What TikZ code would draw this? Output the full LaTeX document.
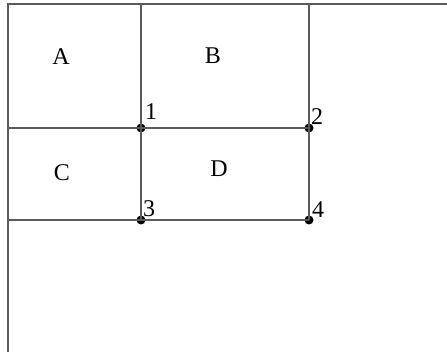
\documentclass[tikz,border=0pt]{standalone}
\usepackage{fontspec}
\setmainfont{Liberation Serif}
\usetikzlibrary{positioning}
\definecolor{gridgray}{RGB}{90,90,90}

\begin{document}
\begin{tikzpicture}[
  x=1pt, y=-1pt,
  line/.style={draw=gridgray, line width=1.2pt},
  dot/.style={circle, fill=black, inner sep=0pt, minimum size=9pt},
  region/.style={font=\fontsize{24}{28}\selectfont, inner sep=0pt},
  num/.style={font=\fontsize{24}{28}\selectfont, inner sep=0pt, anchor=south west}
]
\useasboundingbox (0,0) rectangle (447,352);

% Frame
\coordinate (tl) at (8,4);
\coordinate (tr) at (447,4);
\coordinate (bl) at (8,352);
\coordinate (ml) at (8,128);
\coordinate (ll) at (8,220);
\coordinate (t1) at (141,4);
\coordinate (t2) at (309,4);

% Corner points
\node[dot] (p1) at (141,128) {};
\node[dot] (p2) at (309,128) {};
\node[dot] (p3) at (141,220) {};
\node[dot] (p4) at (309,220) {};

% Grid lines
\draw[line] (tr) -- (tl) -- (bl);
\draw[line] (ml) -- (p1.center) -- (p2.center);
\draw[line] (ll) -- (p3.center) -- (p4.center);
\draw[line] (t1) -- (p1.center) -- (p3.center);
\draw[line] (t2) -- (p2.center) -- (p4.center);

% Point labels
\node[num] (n1) at (145,120) {1};
\node[num] (n2) at (311,125) {2};
\node[num] (n3) at (143,217) {3};
\node[num] (n4) at (312,218) {4};

% Regions
\node[region] (A) at (61,57) {A};
\node[region] (B) at (213,56) {B};
\node[region] (C) at (62,173) {C};
\node[region] (D) at (219,169) {D};

\end{tikzpicture}
\end{document}
